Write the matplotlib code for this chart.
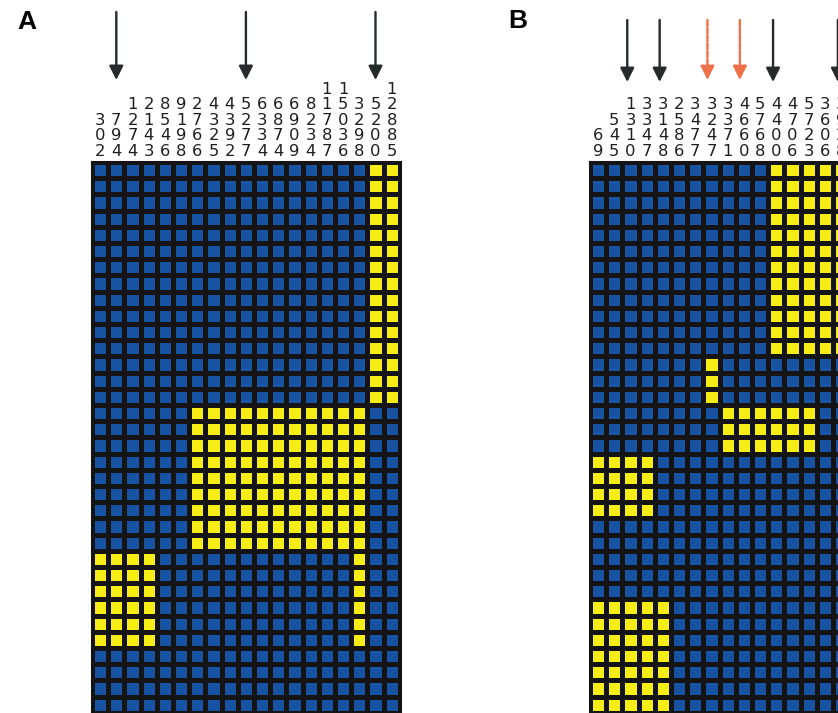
import matplotlib
matplotlib.use("Agg")
import matplotlib.pyplot as plt
import numpy as np
from matplotlib.colors import ListedColormap

# ---------------- data ----------------
labels_a = ["302", "794", "1274", "2143", "8546", "9198", "2766", "4325", "4392",
            "5277", "6334", "6874", "6909", "8234", "11787", "15036", "3298",
            "5200", "12885"]
grid_a = (["0000000000000000011"] * 15 +
          ["0000001111111111100"] * 9 +
          ["1111000000000000100"] * 6 +
          ["0000000000000000000"] * 4)
arrows_a = [2, 10, 18]            # 1-based marked columns (black)

labels_b = ["69", "545", "1310", "3347", "3148", "2586", "3477", "3247", "3371",
            "4660", "5768", "4400", "4706", "5723", "3606", "3928"]
grid_b = (["0000000000011111"] * 12 +
          ["0000000100000000"] * 3 +
          ["0000000011111100"] * 3 +
          ["1111000000000000"] * 4 +
          ["0000000000000000"] * 5 +
          ["1111100000000000"] * 7)
arrows_b_black = [3, 5, 12, 16]
arrows_b_orange = [8, 10]

# ---------------- style ----------------
W, H = 838, 713
CELL = 16.2
BLUE = "#1753a2"
YELLOW = "#f6ec16"
EDGE = "#141414"
ORANGE = "#f0704a"

fig = plt.figure(figsize=(W / 100, H / 100), dpi=100)
fig.patch.set_facecolor("white")


def make_panel(left_px, top_px, rows, labels):
    data = np.array([[int(c) for c in r] for r in rows])
    nrows, ncols = data.shape
    w = ncols * CELL
    h = nrows * CELL
    ax = fig.add_axes([left_px / W, 1 - (top_px + h) / H, w / W, h / H])
    ax.pcolormesh(np.arange(ncols + 1), np.arange(nrows + 1), data,
                  cmap=ListedColormap([BLUE, YELLOW]), vmin=0, vmax=1,
                  edgecolors=EDGE, linewidth=2.2)
    ax.set_xlim(0, ncols)
    ax.set_ylim(nrows, 0)
    ax.set_xticks([])
    ax.set_yticks([])
    for s in ax.spines.values():
        s.set_linewidth(2.2)
        s.set_color(EDGE)

    def py(px):
        return (px - top_px) / CELL

    # vertical stacked column labels
    for j, lab in enumerate(labels):
        for k, ch in enumerate(reversed(lab)):
            ax.text(j + 0.5, py(155.5 - 15.4 * k), ch, ha="center", va="baseline",
                    fontsize=11.8, family="DejaVu Sans", color="#1e1e1e",
                    clip_on=False)
    return ax, py


def draw_arrows(ax, py, cols, top_px, tip_px, color, ls="-", shift=0.0):
    for c in cols:
        x = c - 0.5 + shift
        ax.annotate("", xy=(x, py(tip_px)), xytext=(x, py(top_px)),
                    xycoords="data", textcoords="data", annotation_clip=False,
                    arrowprops=dict(arrowstyle="-|>", color=color, lw=1.7,
                                    linestyle=ls, mutation_scale=21,
                                    shrinkA=0, shrinkB=0))


ax_a, py_a = make_panel(92, 162, grid_a, labels_a)
draw_arrows(ax_a, py_a, arrows_a, 12, 80, "#262a2a")

ax_b, py_b = make_panel(590, 162, grid_b, labels_b)
draw_arrows(ax_b, py_b, arrows_b_black, 20, 82, "#262a2a", shift=-0.2)
draw_arrows(ax_b, py_b, arrows_b_orange, 20, 80, ORANGE, ls=(0, (2.5, 0.8)), shift=-0.25)

fig.text(17 / W, 1 - 29 / H, "A", fontsize=19, fontweight="bold",
         family="Liberation Sans", ha="left", va="baseline")
fig.text(508 / W, 1 - 28 / H, "B", fontsize=19, fontweight="bold",
         family="Liberation Sans", ha="left", va="baseline")

fig.savefig("out.png", dpi=100, facecolor="white")
